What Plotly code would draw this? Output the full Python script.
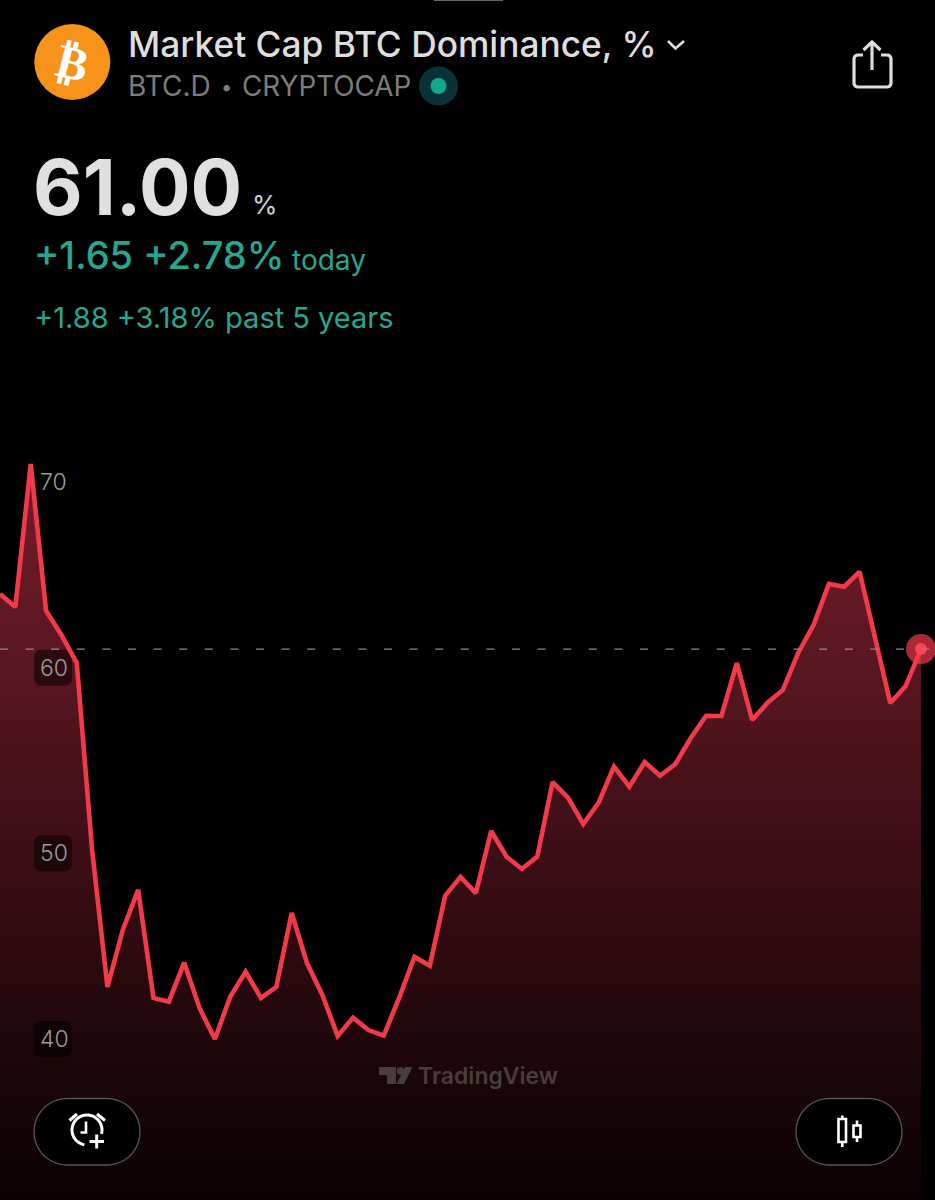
import numpy as np
import plotly.graph_objects as go

# ---- data ----
months = list(range(61))
dominance = [63.97, 63.27, 70.97, 63.07, 61.76, 60.25, 50.18, 42.80, 45.87, 48.03,
             42.21, 42.01, 44.11, 41.67, 40.00, 42.28, 43.62, 42.21, 42.80, 46.79,
             44.09, 42.37, 40.16, 41.15, 40.48, 40.18, 42.21, 44.42, 43.95, 47.72,
             48.73, 47.86, 51.20, 49.82, 49.16, 49.82, 53.84, 53.00, 51.58, 52.73,
             54.67, 53.59, 54.92, 54.18, 54.81, 56.21, 57.41, 57.40, 60.25, 57.18,
             58.11, 58.80, 60.79, 62.30, 64.51, 64.36, 65.17, 61.65, 58.10, 59.01,
             61.00]
y_ticks = [40, 50, 60, 70]
boxed_ticks = [40, 50, 60]

W, H = 935, 1200
PX_PER_MONTH = 15.35
PX_PER_UNIT = 18.567
Y_40_PX = 1039
RED = "#F23A4B"
TEAL = "#26A691"
FONT = "Inter"

x_range = [0, W / PX_PER_MONTH]
y_range = [40 - (H - Y_40_PX) / PX_PER_UNIT, 40 + Y_40_PX / PX_PER_UNIT]


def X(p):
    return p / W


def Y(p):
    return 1 - p / H


def path(points, close=False):
    s = "M " + " L ".join(f"{X(a):.5f},{Y(b):.5f}" for a, b in points)
    return s + (" Z" if close else "")


def corner(cx, cy, r, a0):
    return [(cx + r * np.cos(a), cy + r * np.sin(a))
            for a in np.radians(np.linspace(a0, a0 + 90, 12))]


def rounded(x0, y0, x1, y1, r):
    """Rounded rectangle outline as pixel points."""
    pts = []
    for cx, cy, a0 in [(x1 - r, y0 + r, -90), (x1 - r, y1 - r, 0),
                       (x0 + r, y1 - r, 90), (x0 + r, y0 + r, 180)]:
        pts += corner(cx, cy, r, a0)
    return pts


shapes = []


def stroke(points, color="#ffffff", width=3.0, close=False, fill=None, layer="above"):
    d = dict(type="path", xref="paper", yref="paper", path=path(points, close),
             line=dict(color=color, width=width), layer=layer)
    if fill:
        d["fillcolor"] = fill
    if width == 0:
        d["line"] = dict(width=0)
    shapes.append(d)


def circle(cx, cy, r, fill):
    shapes.append(dict(type="circle", xref="paper", yref="paper",
                       x0=X(cx - r), x1=X(cx + r), y0=Y(cy + r), y1=Y(cy - r),
                       fillcolor=fill, line=dict(width=0), layer="above"))


annotations = []


def text(t, x, y, size, color, weight=400, anchor="left", angle=0, family=FONT):
    annotations.append(dict(text=t, x=X(x), y=Y(y), xref="paper", yref="paper",
                            xanchor=anchor, yanchor="middle", showarrow=False,
                            textangle=angle, borderpad=0, borderwidth=0,
                            xshift=-1 if anchor == "left" else 0,
                            font=dict(family=family, size=size, color=color, weight=weight)))


fig = go.Figure()

# area under the line
fig.add_trace(go.Scatter(
    x=months, y=dominance, mode="none", fill="tozeroy", showlegend=False,
    fillgradient=dict(type="vertical",
                      colorscale=[[0.0, "#741c28"], [0.25, "#5c1722"], [0.5, "#400f17"],
                                  [0.75, "#22070b"], [1.0, "#0c0203"]],
                      start=max(dominance), stop=y_range[0]),
))

# dark chips behind the price-axis labels
for tick in boxed_ticks:
    cy = Y_40_PX - (tick - 40) * PX_PER_UNIT
    pts = rounded(34, cy - 18, 72, cy + 18, 7)
    fig.add_trace(go.Scatter(
        x=[a / PX_PER_MONTH for a, _ in pts],
        y=[40 + (Y_40_PX - b) / PX_PER_UNIT for _, b in pts],
        mode="none", fill="toself", fillcolor="rgba(0,0,0,0.52)", showlegend=False,
    ))

fig.add_trace(go.Scatter(x=months, y=dominance, mode="lines", showlegend=False,
                         line=dict(color=RED, width=4.6, shape="linear")))
fig.add_trace(go.Scatter(x=months[-1:], y=dominance[-1:], mode="markers", showlegend=False,
                         marker=dict(size=30, color="rgba(242,58,75,0.70)")))
fig.add_trace(go.Scatter(x=months[-1:], y=dominance[-1:], mode="markers", showlegend=False,
                         marker=dict(size=12, color="#FF4155")))

# last-value line
shapes.append(dict(type="line", xref="paper", yref="y", x0=0, x1=X(932),
                   y0=dominance[-1], y1=dominance[-1], layer="above",
                   line=dict(color="#8c8c8c", width=1.3, dash="8px,17.6px")))

# status bar sliver
stroke([(434, 0), (503, 0), (503, 1), (434, 1)], color="#666666", width=0, close=True, fill="#666666")

# header
circle(72.3, 62, 38, "#F7931A")
text("₿", 72.3, 63, 47, "#ffffff", 700, "center", 14, "DejaVu Sans")
text("Market Cap BTC Dominance, %", 129, 45, 35.3, "#DEDEDE", 500)
stroke([(668, 41), (675.5, 48.5), (684, 41)], color="#DEDEDE", width=2.6)
text("BTC.D", 129, 86, 28, "#7C7C7C", 400)
text("•", 222, 87, 20, "#7C7C7C", 400)
text("CRYPTOCAP", 243, 86, 27.8, "#7C7C7C", 400)
circle(438.5, 86, 19.5, "#0A3038")
circle(438.5, 86, 8, "#12A58F")

# share icon
stroke([(863, 55)] + corner(858, 59, 4, 180)[::-1] + corner(858, 83, 4, 90)[::-1]
       + corner(887, 83, 4, 0)[::-1] + corner(887, 59, 4, -90)[::-1] + [(881, 55)],
       color="#DEDEDE", width=3.2)
stroke([(872, 70), (872, 42)], color="#DEDEDE", width=3.2)
stroke([(863.5, 50), (872, 42), (880.5, 50)], color="#DEDEDE", width=3.2)

# quote block
text("61.00", 34, 187, 76.5, "#E0E0E0", 700)
text("%", 253, 204, 26, "#D0D0D0", 400)
text("+1.65 +2.78%", 35, 255, 38, TEAL, 500)
text("today", 293, 260, 28, TEAL, 400)
text("+1.88 +3.18% past 5 years", 35, 317, 29, TEAL, 400)

# watermark
stroke([(379, 1067), (396, 1067), (396, 1084), (387, 1084), (387, 1075), (379, 1075)],
       width=0, close=True, fill="#4A3C3E")
circle(400.5, 1071, 3.8, "#4A3C3E")
stroke([(405, 1067), (412.5, 1067), (404, 1084), (396.5, 1084)], width=0, close=True, fill="#4A3C3E")
text("TradingView", 419, 1076, 23, "#4A3C3E", 600)

# pill buttons
for x0, x1 in [(34, 140), (796, 902)]:
    stroke(rounded(x0, 1098.5, x1, 1165, 33), color="#565656", width=1.3, close=True, fill="#000000")

# alarm icon
arc = [(87 + 15 * np.cos(a), 1130 + 15 * np.sin(a)) for a in np.radians(np.linspace(100, 375, 40))]
stroke(arc, width=3)
stroke([(69.5, 1120.5), (77, 1114)], width=3)
stroke([(97, 1114), (105, 1120.5)], width=3)
stroke([(86, 1121.5), (86, 1132.5), (80.5, 1132.5)], width=2.6)
stroke([(96.7, 1134.5), (96.7, 1148.5)], width=3)
stroke([(89.5, 1141.5), (104, 1141.5)], width=3)

# candle icon
stroke([(838.5, 1119), (846, 1119), (846, 1142), (838.5, 1142)], width=2.6, close=True)
stroke([(842.3, 1115.5), (842.3, 1119)], width=2.6)
stroke([(842.3, 1142), (842.3, 1147)], width=2.6)
stroke([(853.5, 1125.5), (860.5, 1125.5), (860.5, 1137), (853.5, 1137)], width=2.6, close=True)
stroke([(857, 1120.5), (857, 1125.5)], width=2.6)
stroke([(857, 1137), (857, 1142)], width=2.6)

fig.update_layout(
    width=W, height=H, margin=dict(l=0, r=0, t=0, b=0),
    paper_bgcolor="#000000", plot_bgcolor="#000000",
    showlegend=False, shapes=shapes, annotations=annotations,
    xaxis=dict(range=x_range, visible=False, fixedrange=True),
    yaxis=dict(range=y_range, tickmode="array", tickvals=y_ticks,
               ticktext=[str(t) for t in y_ticks], ticklabelposition="inside",
               ticklabelstandoff=37, ticks="", showgrid=False, zeroline=False,
               showline=False, fixedrange=True,
               tickfont=dict(family=FONT, size=23, color="#9A9A9A", weight=300)),
)

fig.write_html("out.html", config=dict(displayModeBar=False),
               post_script="document.body.style.margin='0';document.body.style.background='#000';")
